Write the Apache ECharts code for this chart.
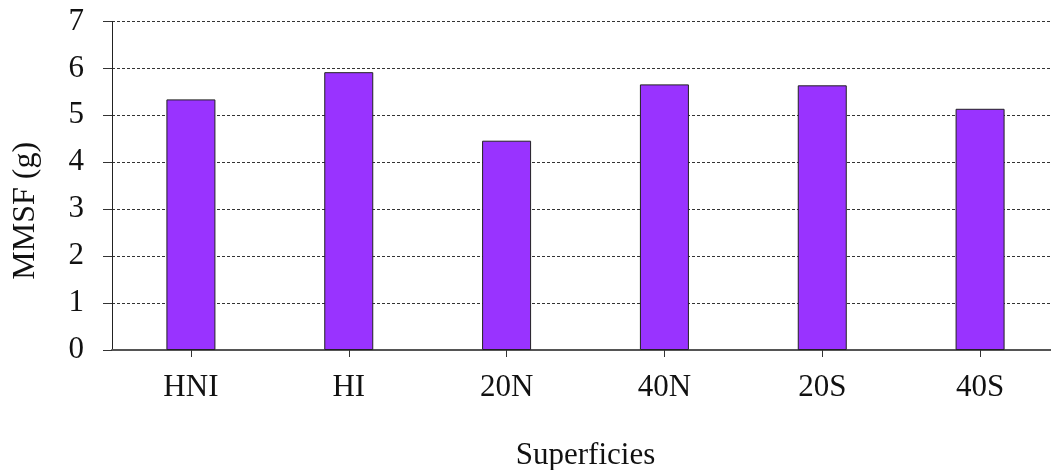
<!DOCTYPE html>
<html>
<head>
<meta charset="utf-8">
<script src="https://cdn.jsdelivr.net/npm/echarts@6/dist/echarts.min.js"></script>
<style>
html,body{margin:0;padding:0;background:#fff;}
#chart{width:1051px;height:470px;}
</style>
</head>
<body>
<div id="chart"></div>
<script>
const categories = ['HNI', 'HI', '20N', '40N', '20S', '40S'];
const mmsf = [5.34, 5.92, 4.46, 5.66, 5.64, 5.14];
const yTicks = [0, 1, 2, 3, 4, 5, 6, 7];
const xTitle = 'Superficies';
const yTitle = 'MMSF (g)';

const font = "'Liberation Serif', 'Times New Roman', serif";
const chart = echarts.init(document.getElementById('chart'), null, {renderer: 'canvas'});
chart.setOption({
  animation: false,
  grid: {left: 112, right: -8, top: 21.5, bottom: 120, containLabel: false, outerBoundsMode: 'none'},
  xAxis: {
    type: 'category',
    data: categories,
    name: xTitle,
    nameLocation: 'middle',
    nameGap: 90,
    nameTextStyle: {fontFamily: font, fontSize: 31, color: '#111'},
    axisLine: {lineStyle: {color: '#555', width: 2}},
    axisTick: {show: true, alignWithLabel: true, length: 7, lineStyle: {color: '#333', width: 1}},
    axisLabel: {fontFamily: font, fontSize: 31, color: '#111', margin: 22},
    splitLine: {show: false}
  },
  yAxis: {
    type: 'value',
    min: yTicks[0],
    max: yTicks[yTicks.length - 1],
    interval: 1,
    name: yTitle,
    nameLocation: 'middle',
    nameGap: 70,
    nameRotate: 90,
    nameTextStyle: {fontFamily: font, fontSize: 32, color: '#111', padding: [0, 50, 0, 0]},
    axisLine: {show: true, lineStyle: {color: '#222', width: 1}},
    axisTick: {show: true, length: 9, inside: false, lineStyle: {color: '#333', width: 1}},
    axisLabel: {fontFamily: font, fontSize: 31, color: '#111', margin: 28},
    splitLine: {show: true, lineStyle: {color: '#333', width: 1, type: [3, 2]}}
  },
  series: [{
    type: 'bar',
    data: mmsf,
    barWidth: 49,
    itemStyle: {color: '#9933FF', borderColor: '#222', borderWidth: 1}
  }]
});
</script>
</body>
</html>
